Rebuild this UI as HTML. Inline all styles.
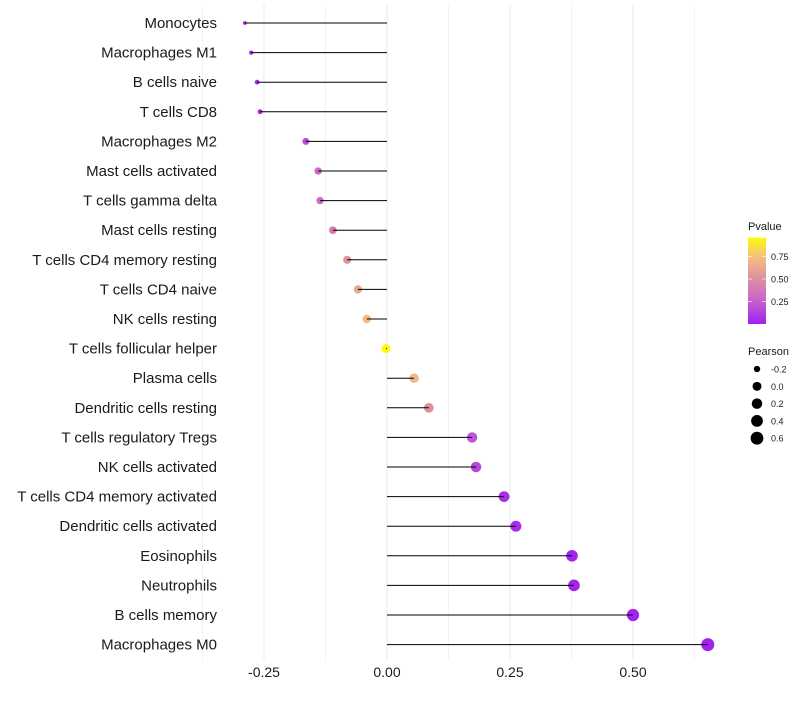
<!DOCTYPE html>
<html><head><meta charset="utf-8"><style>body{margin:0;background:#fff}svg{font-family:"Liberation Sans",sans-serif}</style></head><body>
<svg id="c" width="800" height="700"></svg>
<script>
const cells=["Monocytes","Macrophages M1","B cells naive","T cells CD8","Macrophages M2","Mast cells activated","T cells gamma delta","Mast cells resting","T cells CD4 memory resting","T cells CD4 naive","NK cells resting","T cells follicular helper","Plasma cells","Dendritic cells resting","T cells regulatory  Tregs ","NK cells activated","T cells CD4 memory activated","Dendritic cells activated","Eosinophils","Neutrophils","B cells memory","Macrophages M0"];
const pearson=[-0.289,-0.276,-0.264,-0.258,-0.165,-0.140,-0.136,-0.110,-0.081,-0.059,-0.041,-0.002,0.055,0.085,0.173,0.181,0.238,0.262,0.376,0.380,0.500,0.652];
const pvalue=[0.02,0.03,0.04,0.05,0.18,0.28,0.32,0.40,0.52,0.62,0.72,0.96,0.70,0.50,0.20,0.15,0.05,0.05,0.02,0.02,0.01,0.01];
const xTicks=[-0.25,0,0.25,0.5];
const xTickLabels=["-0.25","0.00","0.25","0.50"];
const pTicks=[0.25,0.5,0.75];
const sizeTicks=[-0.2,0,0.2,0.4,0.6];
const NS="http://www.w3.org/2000/svg",svg=document.getElementById('c');
function mk(t,a,p){const e=document.createElementNS(NS,t);for(const k in a)e.setAttribute(k,a[k]);(p||svg).appendChild(e);return e;}
const X=v=>387+v*492, Y=i=>23+i*29.6;
const stops=[[0,[160,32,240]],[0.25,[200,96,208]],[0.5,[221,143,160]],[0.75,[245,192,128]],[0.97,[255,255,0]]];
function col(p){for(let i=1;i<stops.length;i++){if(p<=stops[i][0]||i==stops.length-1){const a=stops[i-1],b=stops[i];let t=Math.min(1,Math.max(0,(p-a[0])/(b[0]-a[0])));const c=a[1].map((v,k)=>Math.round(v+(b[1][k]-v)*t));return `rgb(${c})`;}}}
const R=v=>6.6*Math.pow(Math.max(0.005,v+0.31),0.33);
for(let v=-0.375;v<=0.625;v+=0.125){const g=mk('line',{x1:X(v),x2:X(v),y1:5,y2:660,stroke:'#ebebeb','stroke-width':Math.abs(v*4-Math.round(v*4))<1e-6?1.1:0.6});}
cells.forEach((c,i)=>{
 const t=mk('text',{x:217,y:Y(i)+5,'text-anchor':'end','font-size':15,fill:'#1a1a1a'});t.textContent=c;
 
 const p=mk('circle',{cx:X(pearson[i]),cy:Y(i),r:R(pearson[i]),fill:col(pvalue[i])});
 
 const l=mk('line',{x1:X(0),x2:X(pearson[i]),y1:Y(i),y2:Y(i),stroke:'#000','stroke-width':1});
 
});
xTicks.forEach((v,i)=>{const t=mk('text',{x:X(v),y:677,'text-anchor':'middle','font-size':14,fill:'#1a1a1a'});t.textContent=xTickLabels[i];});
const defs=mk('defs',{});const lg=mk('linearGradient',{id:'pg',x1:0,y1:1,x2:0,y2:0},defs);
const P0=324,PS=90;
for(let k=0;k<=10;k++){const p=k/10*0.96;mk('stop',{offset:k/10,'stop-color':col(p)},lg);}
let t=mk('text',{x:748,y:230,'font-size':11,fill:'#1a1a1a'});t.textContent='Pvalue';
const bar=mk('rect',{x:748,y:P0-0.96*PS,width:18,height:0.96*PS,fill:'url(#pg)'});
pTicks.forEach(v=>{const y=P0-v*PS;mk('line',{x1:748,x2:752,y1:y,y2:y,stroke:'#fff','stroke-opacity':0.6});mk('line',{x1:762,x2:766,y1:y,y2:y,stroke:'#fff','stroke-opacity':0.6});const tt=mk('text',{x:771,y:y+3.5,'font-size':9,fill:'#1a1a1a'});tt.textContent=v.toFixed(2);});
t=mk('text',{x:748,y:355,'font-size':11,fill:'#1a1a1a'});t.textContent='Pearson';
sizeTicks.forEach((v,i)=>{const y=369+i*17.3;const c=mk('circle',{cx:757,cy:y,r:R(v),fill:'#000'});const tt=mk('text',{x:771,y:y+3.5,'font-size':9,fill:'#1a1a1a'});tt.textContent=String(v===0?'0.0':v);});
</script></body></html>
